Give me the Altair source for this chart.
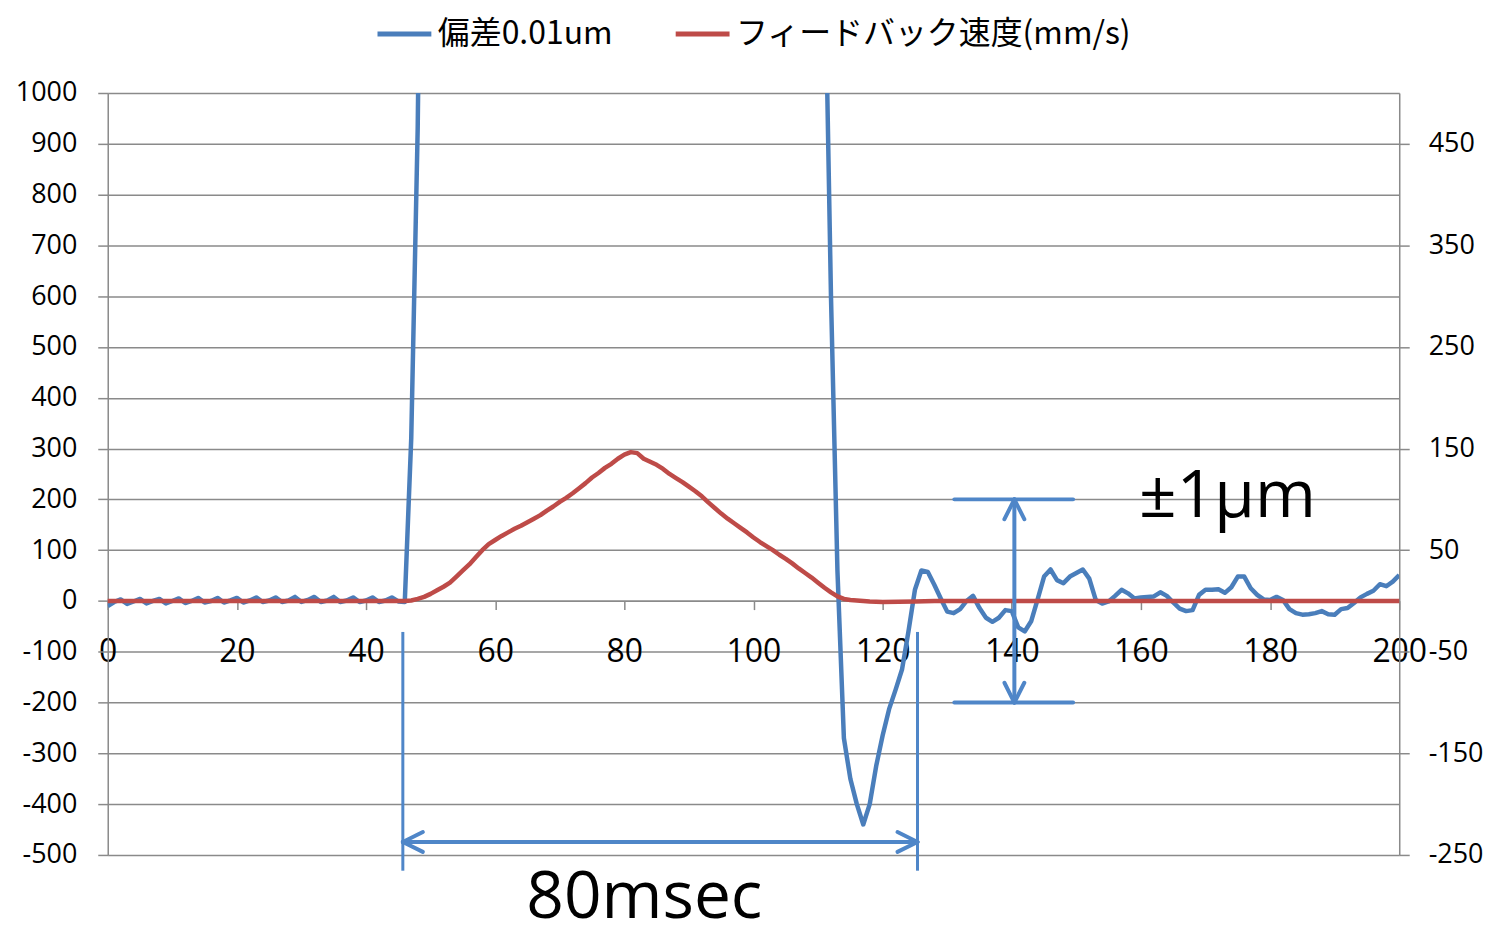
import altair as alt
import pandas as pd

BLUE_NAME = "偏差0.01um"
RED_NAME = "フィードバック速度(mm/s)"

# deviation (units of 0.01 um), left axis; values above 1000 are off-scale (clipped)
blue_t = list(range(0, 50)) + [110] + list(range(111, 201))
blue_v = [
    -10, -2, 3, -6, -1, 4, -5, 0, 4, -5,
    0, 5, -4, 0, 6, -3, 0, 6, -3, 1,
    6, -3, 1, 7, -2, 1, 7, -2, 1, 8,
    -2, 2, 8, -2, 1, 8, -2, 1, 7, -2,
    1, 7, -2, 1, 7, -1, -2, 320, 930, 2000,
    2000,
    1300, 600, 60, -270, -350, -400, -440, -400, -325, -265,
    -213, -175, -135, -60, 22, 60, 57, 32, 5, -21,
    -24, -16, 0, 10, -14, -33, -41, -33, -18, -20,
    -52, -60, -40, 3, 48, 62, 41, 35, 48, 55,
    62, 44, 2, -5, -1, 10, 22, 15, 5, 7,
    8, 9, 17, 10, -3, -15, -20, -18, 12, 22,
    22, 23, 16, 27, 48, 48, 25, 12, 3, 2,
    8, 2, -16, -24, -27, -26, -24, -20, -26, -27,
    -16, -14, -4, 7, 14, 20, 33, 29, 38, 51,
]

# feedback speed (mm/s), right axis
red_t = [0, 45, 46, 47, 48, 49, 50, 51, 52, 53, 54, 55, 56, 57, 58, 59, 60,
         61, 62, 63, 64, 65, 66, 67, 68, 69, 70, 71, 72, 73, 74, 75, 76, 77,
         78, 79, 80, 81, 82, 83, 84, 85, 86, 87, 88, 89, 90, 91, 92, 93, 94,
         95, 96, 97, 98, 99, 100, 101, 102, 103, 104, 105, 106, 107, 108, 109,
         110, 111, 112, 113, 114, 115, 116, 117, 118, 120, 125, 128, 200]
red_v = [0, 0, 0, 0.5, 2, 4, 7, 10.5, 14, 18, 24, 30, 36, 43, 50, 56, 60,
         64, 67.5, 71, 74, 77.5, 81, 84.5, 89, 93, 97.5, 101.5, 106, 111, 116, 121.5, 126, 131,
         135, 140, 144, 146.5, 145.5, 140, 137, 134, 130, 125, 121, 117, 112.5, 108, 103, 97, 91.5,
         86, 81, 76.5, 72, 67.5, 62.5, 58, 54, 50, 45.5, 41.5, 37, 32, 27.5, 23,
         18, 13, 8.5, 4.5, 2, 1, 0.5, 0, -0.5, -1, -0.5, 0, 0]

LEFT_TICKS = list(range(-500, 1001, 100))
RIGHT_TICKS = [-250, -150, -50, 50, 150, 250, 350, 450]
X_TICKS = list(range(0, 201, 20))

# annotation segments (data coordinates, left axis units)
thick_x1 = [131.1, 131.1, 140.4, 140.4, 140.4, 140.4, 140.4, 45.7, 45.7, 45.7, 125.4, 125.4]
thick_y1 = [200, -200, 200, 200, 200, -200, -200, -474.5, -474.5, -474.5, -474.5, -474.5]
thick_x2 = [149.5, 149.5, 140.4, 138.86, 141.94, 138.86, 141.94, 125.4, 48.8, 48.8, 122.3, 122.3]
thick_y2 = [200, -200, -200, 161, 161, -161, -161, -474.5, -455, -494, -455, -494]

thin_x = [45.7, 125.4]
thin_y1 = [-61, -61]
thin_y2 = [-531, -531]

label_text = ["±1μm", "80msec"]
label_x = [173.4, 83.1]
label_y = [165, -624]

GRAY = "#8a8a8a"
ANN = "#4f86c8"
FONT = "Open Sans"
MINUS_EXPR = "datum.value < 0 ? '-' + abs(datum.value) : '' + datum.value"

df_blue = pd.DataFrame({"t": blue_t, "v": blue_v, "series": BLUE_NAME})
df_red = pd.DataFrame({"t": red_t, "v": red_v, "series": RED_NAME})
df_thick = pd.DataFrame({"t": thick_x1, "v": thick_y1, "t2": thick_x2, "v2": thick_y2})
df_thin = pd.DataFrame({"t": thin_x, "v": thin_y1, "v2": thin_y2})
df_text = pd.DataFrame({"t": label_x, "v": label_y, "label": label_text})

xscale = alt.Scale(domain=[0, 200], nice=False, zero=False)
xenc = alt.X(
    "t:Q", scale=xscale,
    axis=alt.Axis(values=X_TICKS, offset=-255, grid=False, tickSize=9, tickWidth=1.5,
                  tickColor=GRAY, domainColor=GRAY, domainWidth=1.5, labelPadding=27,
                  labelFontSize=32, labelFont=FONT, labelColor="black", labelFlush=False,
                  labelOverlap=False, title=None, labelExpr=MINUS_EXPR),
)
left_scale = alt.Scale(domain=[-500, 1000], nice=False, zero=False)

color = alt.Color(
    "series:N",
    scale=alt.Scale(domain=[BLUE_NAME, RED_NAME], range=["#4a7ebb", "#be4b48"]),
    legend=alt.Legend(orient="none", legendX=268, legendY=-89, direction="horizontal",
                      title=None, symbolType="stroke", symbolSize=2916, symbolStrokeWidth=5,
                      labelFont="Noto Sans CJK JP", labelFontSize=32, labelColor="black",
                      labelLimit=1000, columnPadding=52, labelOffset=4),
)

blue = alt.Chart(df_blue).mark_line(strokeWidth=4.5, clip=True, strokeJoin="round").encode(
    x=xenc,
    y=alt.Y("v:Q", scale=left_scale,
            axis=alt.Axis(values=LEFT_TICKS, grid=True, gridColor=GRAY, gridWidth=1.5,
                          tickSize=10, tickWidth=1.5, tickColor=GRAY, domainColor=GRAY,
                          domainWidth=1.5, labelPadding=21, labelFontSize=27, labelFont=FONT,
                          labelColor="black", title=None, labelExpr=MINUS_EXPR)),
    color=color,
    order="t:Q",
)

red = alt.Chart(df_red).mark_line(strokeWidth=4.5, strokeJoin="round").encode(
    x=xenc,
    y=alt.Y("v:Q", scale=alt.Scale(domain=[-250, 500], nice=False, zero=False),
            axis=alt.Axis(orient="right", values=RIGHT_TICKS, grid=False, tickSize=10,
                          tickWidth=1.5, tickColor=GRAY, domainColor=GRAY, domainWidth=1.5,
                          labelPadding=19, labelFontSize=27, labelFont=FONT,
                          labelColor="black", title=None, labelExpr=MINUS_EXPR)),
    color=color,
    order="t:Q",
)

thick = alt.Chart(df_thick).mark_rule(color=ANN, strokeWidth=4, strokeCap="round").encode(
    x=xenc, x2="t2:Q",
    y=alt.Y("v:Q", scale=left_scale, axis=None), y2="v2:Q",
)

thin = alt.Chart(df_thin).mark_rule(color=ANN, strokeWidth=3).encode(
    x=xenc,
    y=alt.Y("v:Q", scale=left_scale, axis=None), y2="v2:Q",
)

texts = alt.Chart(df_text).mark_text(font=FONT, fontSize=66, color="black",
                                     align="center", baseline="alphabetic").encode(
    x=xenc,
    y=alt.Y("v:Q", scale=left_scale, axis=None),
    text="label:N",
)

chart = alt.layer(blue, red, thick, thin, texts).resolve_scale(
    y="independent"
).properties(
    width=1295, height=764,
    padding={"left": 100, "top": 84, "right": 88, "bottom": 65},
    autosize=alt.AutoSizeParams(type="none"),
).configure_view(strokeWidth=0)

chart.save("out.html", embed_options={"renderer": "svg", "actions": False})
